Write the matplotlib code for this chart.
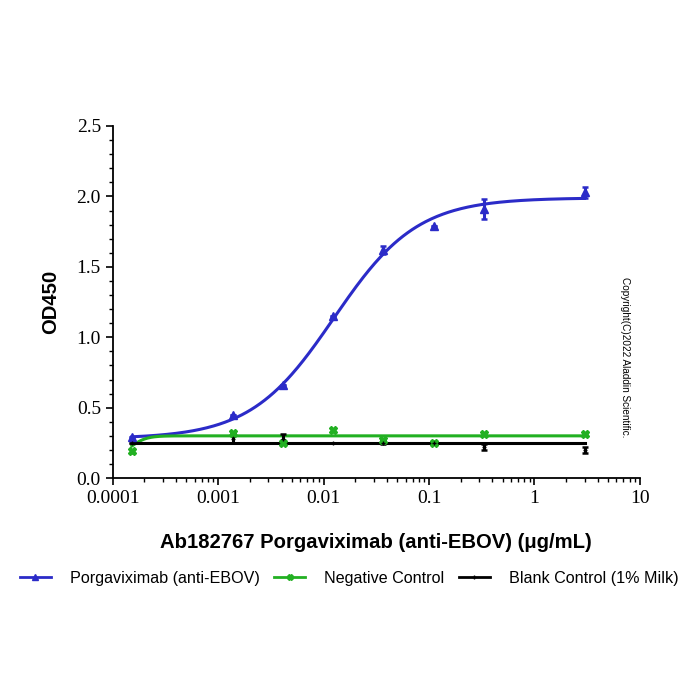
import numpy as np
import matplotlib.pyplot as plt
from matplotlib.ticker import LogLocator, MultipleLocator, NullFormatter

conc = [0.000152, 0.00137, 0.00412, 0.0123, 0.037, 0.111, 0.333, 3.0]

porga_mean = [0.29, 0.45, 0.66, 1.15, 1.62, 1.79, 1.91, 2.03]
porga_err = [0.0, 0.0, 0.0, 0.0, 0.03, 0.0, 0.07, 0.04]

neg_mean = [0.19, 0.32, 0.25, 0.34, 0.27, 0.25, 0.31, 0.31]
neg_err = [0.01, 0.01, 0.01, 0.01, 0.0, 0.01, 0.0, 0.0]

blank_mean = [0.25, 0.28, 0.28, 0.25, 0.25, 0.25, 0.22, 0.20]
blank_err = [0.0, 0.03, 0.03, 0.0, 0.01, 0.0, 0.02, 0.02]

# 4PL fit parameters (bottom, top, ec50, hill)
porga_fit = (0.28, 1.99, 0.0125, 1.1)
neg_fit = (0.15, 0.30, 0.000150, 6.0)
blank_fit = (0.25, 0.25, 0.01, 1.0)

labels = ["Porgaviximab (anti-EBOV)", "Negative Control", "Blank Control (1% Milk)"]
colors = ["#2b2bc8", "#22b022", "#000000"]


def four_pl(x, bottom, top, ec50, hill):
    return bottom + (top - bottom) / (1 + (ec50 / x) ** hill)


plt.rcParams["font.family"] = ["Liberation Sans", "DejaVu Sans"]

fig = plt.figure(figsize=(7, 7), dpi=100)
ax = fig.add_axes([0.161, 0.317, 0.753, 0.503])

xs = np.logspace(np.log10(conc[0]), np.log10(conc[-1]), 400)
series = [
    (porga_mean, porga_err, porga_fit, "^"),
    (neg_mean, neg_err, neg_fit, "X"),
    (blank_mean, blank_err, blank_fit, "+"),
]
handles = []
for (mean, err, fit, mk), col, lab in zip(series, colors, labels):
    ax.errorbar(conc, mean, yerr=err, fmt=mk, color=col, ms=6 if mk != "+" else 3,
                elinewidth=2.2, capsize=2.5, capthick=1.8, zorder=3)
    ax.plot(xs, four_pl(xs, *fit), color=col, lw=2.2, zorder=2)
    h, = ax.plot([], [], color=col, lw=2, marker=mk, ms=4 if mk != "+" else 3, label=lab)
    handles.append(h)

ax.set_xscale("log")
ax.set_xlim(0.0001, 10)
ax.set_ylim(0, 2.5)
ax.set_xticks([0.0001, 0.001, 0.01, 0.1, 1, 10])
ax.set_xticklabels(["0.0001", "0.001", "0.01", "0.1", "1", "10"])
ax.xaxis.set_minor_locator(LogLocator(base=10, subs=np.arange(2, 10)))
ax.xaxis.set_minor_formatter(NullFormatter())
ax.yaxis.set_major_locator(MultipleLocator(0.5))
ax.yaxis.set_minor_locator(MultipleLocator(0.1))
ax.set_yticklabels([f"{v:.1f}" for v in ax.get_yticks()])

for s in ["top", "right"]:
    ax.spines[s].set_visible(False)
for s in ["left", "bottom"]:
    ax.spines[s].set_linewidth(1.3)
ax.tick_params(which="major", direction="out", length=5, width=1.2)
ax.tick_params(which="minor", direction="out", length=3, width=1)
for lbl in ax.get_xticklabels() + ax.get_yticklabels():
    lbl.set_fontfamily("Liberation Serif")
    lbl.set_fontsize(14)

ax.set_xlabel("Ab182767 Porgaviximab (anti-EBOV) (μg/mL)", fontsize=14.6, fontweight="bold", labelpad=19)
ax.set_ylabel("OD450", fontsize=14.6, fontweight="bold", labelpad=12)

fig.text(0.893, 0.489, "Copyright(C)2022 Aladdin Scientific.", rotation=-90,
         fontsize=7.2, ha="center", va="center")

fig.legend(handles=handles, loc="center", bbox_to_anchor=(0.499, 0.174), ncol=3,
           frameon=False, fontsize=11.6, handlelength=1.9, handletextpad=1.2,
           columnspacing=0.9)

fig.savefig("out.png", dpi=100)
